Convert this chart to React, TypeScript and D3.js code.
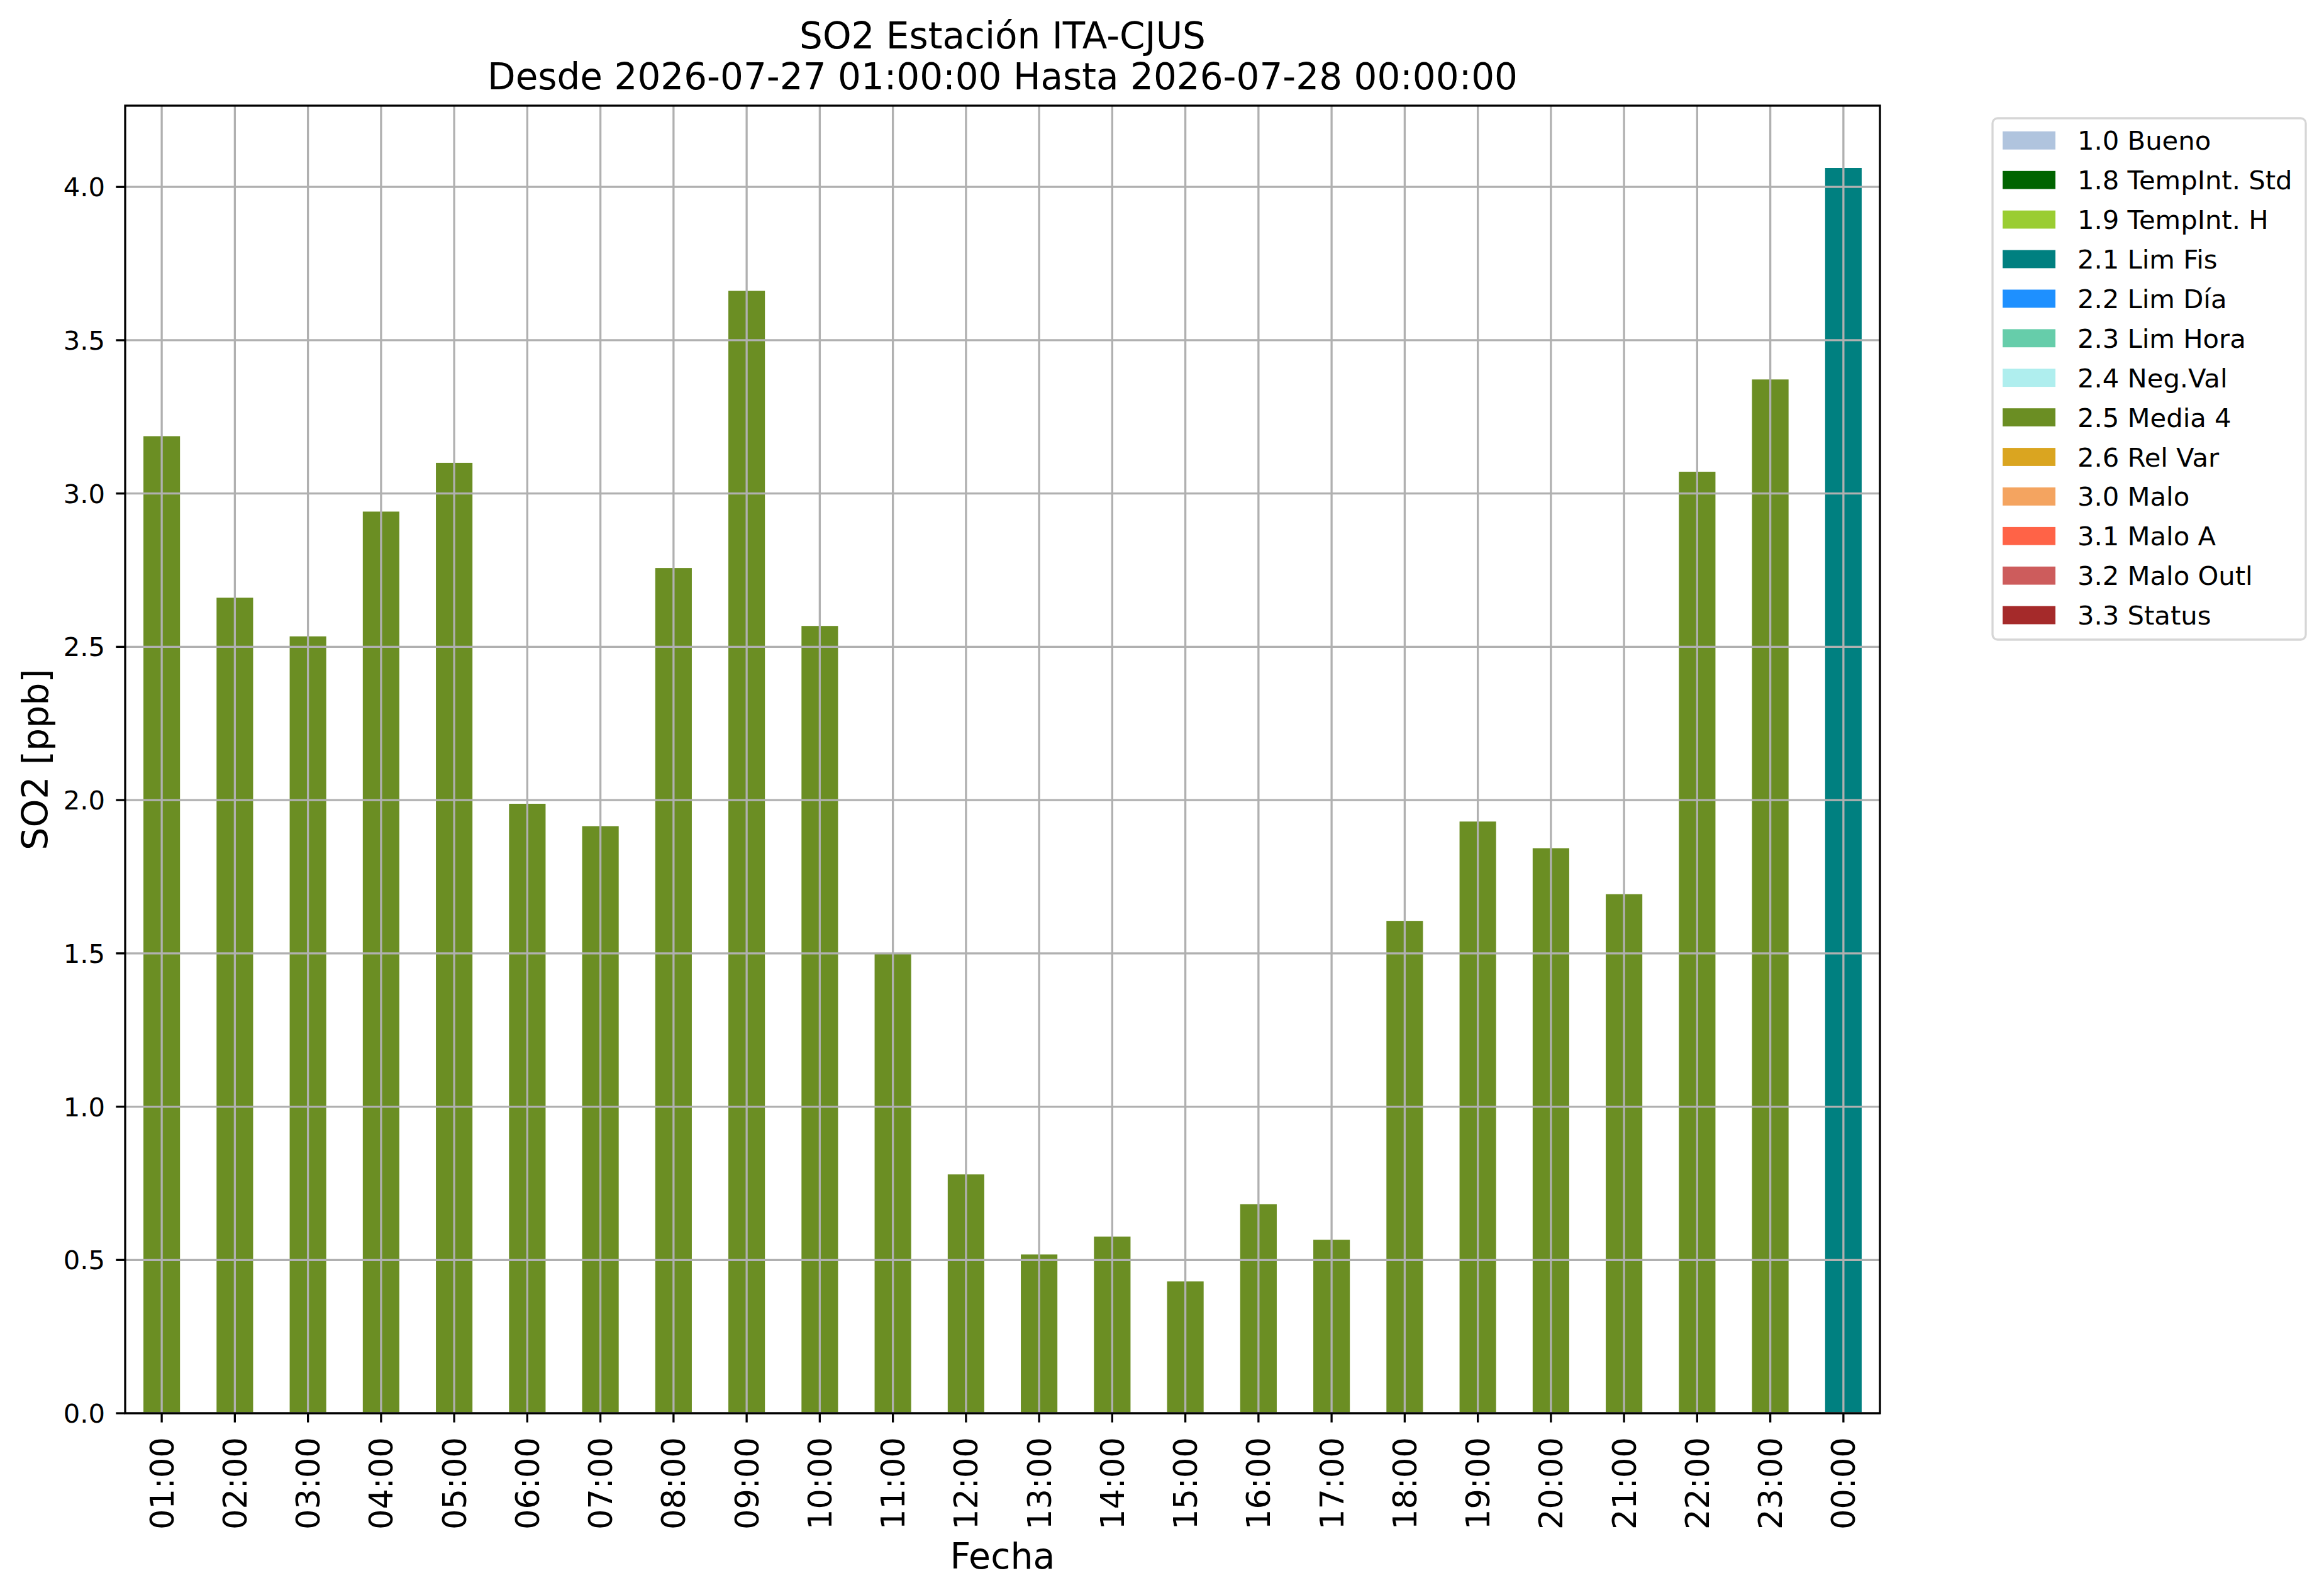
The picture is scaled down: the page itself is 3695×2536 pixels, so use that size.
import React, { useEffect, useRef } from "react";
import * as d3 from "d3";

const hours = [
  "01:00", "02:00", "03:00", "04:00", "05:00", "06:00", "07:00", "08:00",
  "09:00", "10:00", "11:00", "12:00", "13:00", "14:00", "15:00", "16:00",
  "17:00", "18:00", "19:00", "20:00", "21:00", "22:00", "23:00", "00:00",
];

const so2 = [
  3.187, 2.66, 2.534, 2.941, 3.1, 1.988, 1.915, 2.757, 3.661, 2.568, 1.499, 0.779,
  0.518, 0.576, 0.43, 0.682, 0.566, 1.606, 1.93, 1.843, 1.693, 3.071, 3.372, 4.062,
];

// flag of each hour (index into flagNames)
const hourFlags = [
  7, 7, 7, 7, 7, 7, 7, 7, 7, 7, 7, 7, 7, 7, 7, 7, 7, 7, 7, 7, 7, 7, 7, 3,
];

const flagNames = [
  "1.0 Bueno", "1.8 TempInt. Std", "1.9 TempInt. H", "2.1 Lim Fis", "2.2 Lim Día",
  "2.3 Lim Hora", "2.4 Neg.Val", "2.5 Media 4", "2.6 Rel Var", "3.0 Malo",
  "3.1 Malo A", "3.2 Malo Outl", "3.3 Status",
];

const flagColors = [
  "#b0c4de", "#006400", "#9acd32", "#008080", "#1e90ff", "#66cdaa", "#afeeee",
  "#6b8e23", "#daa520", "#f4a460", "#ff6347", "#cd5c5c", "#a52a2a",
];

const yTicks = [0, 0.5, 1, 1.5, 2, 2.5, 3, 3.5, 4];

const W = 3695;
const H = 2536;
const FONT = "DejaVu Sans";

const App: React.FC = () => {
  const svgRef = useRef<SVGSVGElement>(null);

  useEffect(() => {
    if (!svgRef.current) return;
    const svg = d3.select(svgRef.current);
    svg.selectAll("*").remove();

    const left = 199;
    const right = 2989;
    const top = 168;
    const bottom = 2247;
    const lw = 3.3;

    const x = d3
      .scaleBand()
      .domain(hours)
      .range([left, right])
      .paddingInner(0.5)
      .paddingOuter(0.25);
    const y = d3
      .scaleLinear()
      .domain([0, (d3.max(so2) || 0) * 1.05])
      .range([bottom, top]);

    svg.append("rect").attr("width", W).attr("height", H).attr("fill", "white");

    // bars
    svg
      .append("g")
      .selectAll("rect")
      .data(so2)
      .join("rect")
      .attr("x", (_, i) => x(hours[i])!)
      .attr("y", (d) => y(d))
      .attr("width", x.bandwidth())
      .attr("height", (d) => bottom - y(d))
      .attr("fill", (_, i) => flagColors[hourFlags[i]]);

    // grid on top of bars
    const grid = svg.append("g").attr("stroke", "#b0b0b0").attr("stroke-width", lw);
    hours.forEach((h) => {
      const cx = x(h)! + x.bandwidth() / 2;
      grid.append("line").attr("x1", cx).attr("x2", cx).attr("y1", top).attr("y2", bottom);
    });
    yTicks.forEach((t) => {
      grid.append("line").attr("x1", left).attr("x2", right).attr("y1", y(t)).attr("y2", y(t));
    });

    // frame
    svg
      .append("rect")
      .attr("x", left)
      .attr("y", top)
      .attr("width", right - left)
      .attr("height", bottom - top)
      .attr("fill", "none")
      .attr("stroke", "black")
      .attr("stroke-width", lw);

    // x ticks
    const xt = svg.append("g");
    hours.forEach((h) => {
      const cx = x(h)! + x.bandwidth() / 2;
      xt.append("line")
        .attr("x1", cx)
        .attr("x2", cx)
        .attr("y1", bottom)
        .attr("y2", bottom + 14.6)
        .attr("stroke", "black")
        .attr("stroke-width", lw);
      xt.append("text")
        .attr("transform", `translate(${cx},${bottom + 38}) rotate(-90)`)
        .attr("text-anchor", "end")
        .attr("dy", "0.36em")
        .style("font-family", FONT)
        .style("font-size", "51px")
        .text(h);
    });

    // y ticks
    const yt = svg.append("g");
    yTicks.forEach((t) => {
      yt.append("line")
        .attr("x1", left - 14.6)
        .attr("x2", left)
        .attr("y1", y(t))
        .attr("y2", y(t))
        .attr("stroke", "black")
        .attr("stroke-width", lw);
      yt.append("text")
        .attr("x", left - 32)
        .attr("y", y(t))
        .attr("dy", "0.36em")
        .attr("text-anchor", "end")
        .style("font-family", FONT)
        .style("font-size", "41.7px")
        .text(d3.format(".1f")(t));
    });

    const mid = (left + right) / 2;

    // titles
    svg
      .append("text")
      .attr("x", mid)
      .attr("y", 77)
      .attr("text-anchor", "middle")
      .style("font-family", FONT)
      .style("font-size", "58px")
      .text("SO2 Estación ITA-CJUS");
    svg
      .append("text")
      .attr("x", mid)
      .attr("y", 142)
      .attr("text-anchor", "middle")
      .style("font-family", FONT)
      .style("font-size", "58px")
      .text("Desde 2026-07-27 01:00:00 Hasta 2026-07-28 00:00:00");

    svg
      .append("text")
      .attr("x", mid)
      .attr("y", 2494)
      .attr("text-anchor", "middle")
      .style("font-family", FONT)
      .style("font-size", "57px")
      .text("Fecha");

    svg
      .append("text")
      .attr("transform", `translate(76,${(top + bottom) / 2}) rotate(-90)`)
      .attr("text-anchor", "middle")
      .style("font-family", FONT)
      .style("font-size", "57px")
      .text("SO2 [ppb]");

    // legend
    const lx = 3168;
    const ly = 188;
    const rowH = 62.9;
    const lg = svg.append("g");
    lg.append("rect")
      .attr("x", lx)
      .attr("y", ly)
      .attr("width", 498)
      .attr("height", 829)
      .attr("rx", 8)
      .attr("fill", "white")
      .attr("fill-opacity", 0.8)
      .attr("stroke", "#d6d6d6")
      .attr("stroke-width", lw);
    flagNames.forEach((name, i) => {
      const cy = ly + 35.3 + i * rowH;
      lg.append("rect")
        .attr("x", lx + 16)
        .attr("y", cy - 14.4)
        .attr("width", 84)
        .attr("height", 28.8)
        .attr("fill", flagColors[i]);
      lg.append("text")
        .attr("x", lx + 135)
        .attr("y", cy + 15)
        .style("font-family", FONT)
        .style("font-size", "41.7px")
        .text(name);
    });
  }, []);

  return (
    <svg
      ref={svgRef}
      width={W}
      height={H}
      style={{ position: "absolute", left: 0, top: 0 }}
    />
  );
};

export default App;
